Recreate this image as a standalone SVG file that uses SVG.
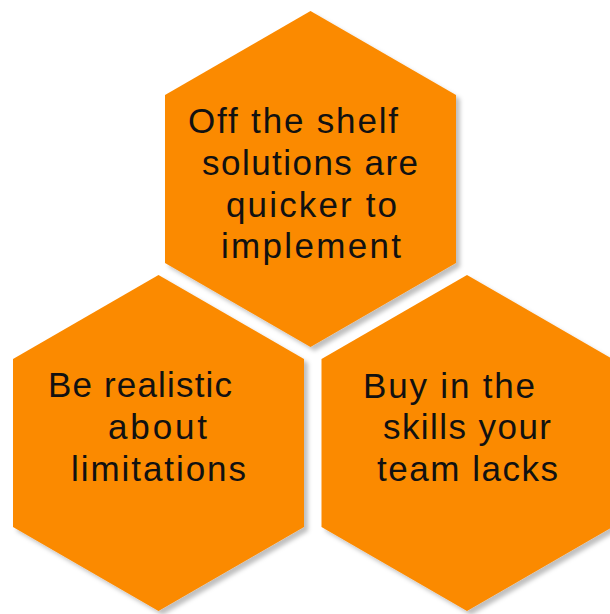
<svg xmlns="http://www.w3.org/2000/svg" width="610" height="614" viewBox="0 0 610 614">
  <defs>
    <filter id="shadow" x="-10%" y="-10%" width="130%" height="130%">
      <feDropShadow dx="4" dy="4" stdDeviation="2" flood-color="#000" flood-opacity="0.25"/>
    </filter>
  </defs>
  <style>
    .hex { fill: #FB8A04; filter: url(#shadow); }
    .lbl { font-family: "Liberation Sans", Arial, sans-serif; font-size: 35px; fill: #111; text-anchor: start; }
  </style>
  <rect width="610" height="614" fill="#fff"/>
  <g id="connectors"/>
  <g id="node-top">
    <polygon class="hex" points="310.5,11 456,95 456,263 310.5,347 165,263 165,95"/>
    <text class="lbl">
      <tspan x="188" y="133" textLength="210" lengthAdjust="spacing">Off the shelf</tspan>
      <tspan x="202" y="175" textLength="216" lengthAdjust="spacing">solutions are</tspan>
      <tspan x="226" y="217" textLength="171" lengthAdjust="spacing">quicker to</tspan>
      <tspan x="221" y="258" textLength="180" lengthAdjust="spacing">implement</tspan>
    </text>
  </g>
  <g id="node-left">
    <polygon class="hex" points="158.5,275 304,359 304,527 158.5,611 13,527 13,359"/>
    <text class="lbl">
      <tspan x="48" y="397" textLength="184" lengthAdjust="spacing">Be realistic</tspan>
      <tspan x="108" y="439" textLength="99" lengthAdjust="spacing">about</tspan>
      <tspan x="71" y="481" textLength="175" lengthAdjust="spacing">limitations</tspan>
    </text>
  </g>
  <g id="node-right">
    <polygon class="hex" points="467,275 612.5,359 612.5,527 467,611 321.5,527 321.5,359"/>
    <text class="lbl">
      <tspan x="363" y="398" textLength="172" lengthAdjust="spacing">Buy in the</tspan>
      <tspan x="383" y="439" textLength="168" lengthAdjust="spacing">skills your</tspan>
      <tspan x="377" y="481" textLength="181" lengthAdjust="spacing">team lacks</tspan>
    </text>
  </g>
</svg>
